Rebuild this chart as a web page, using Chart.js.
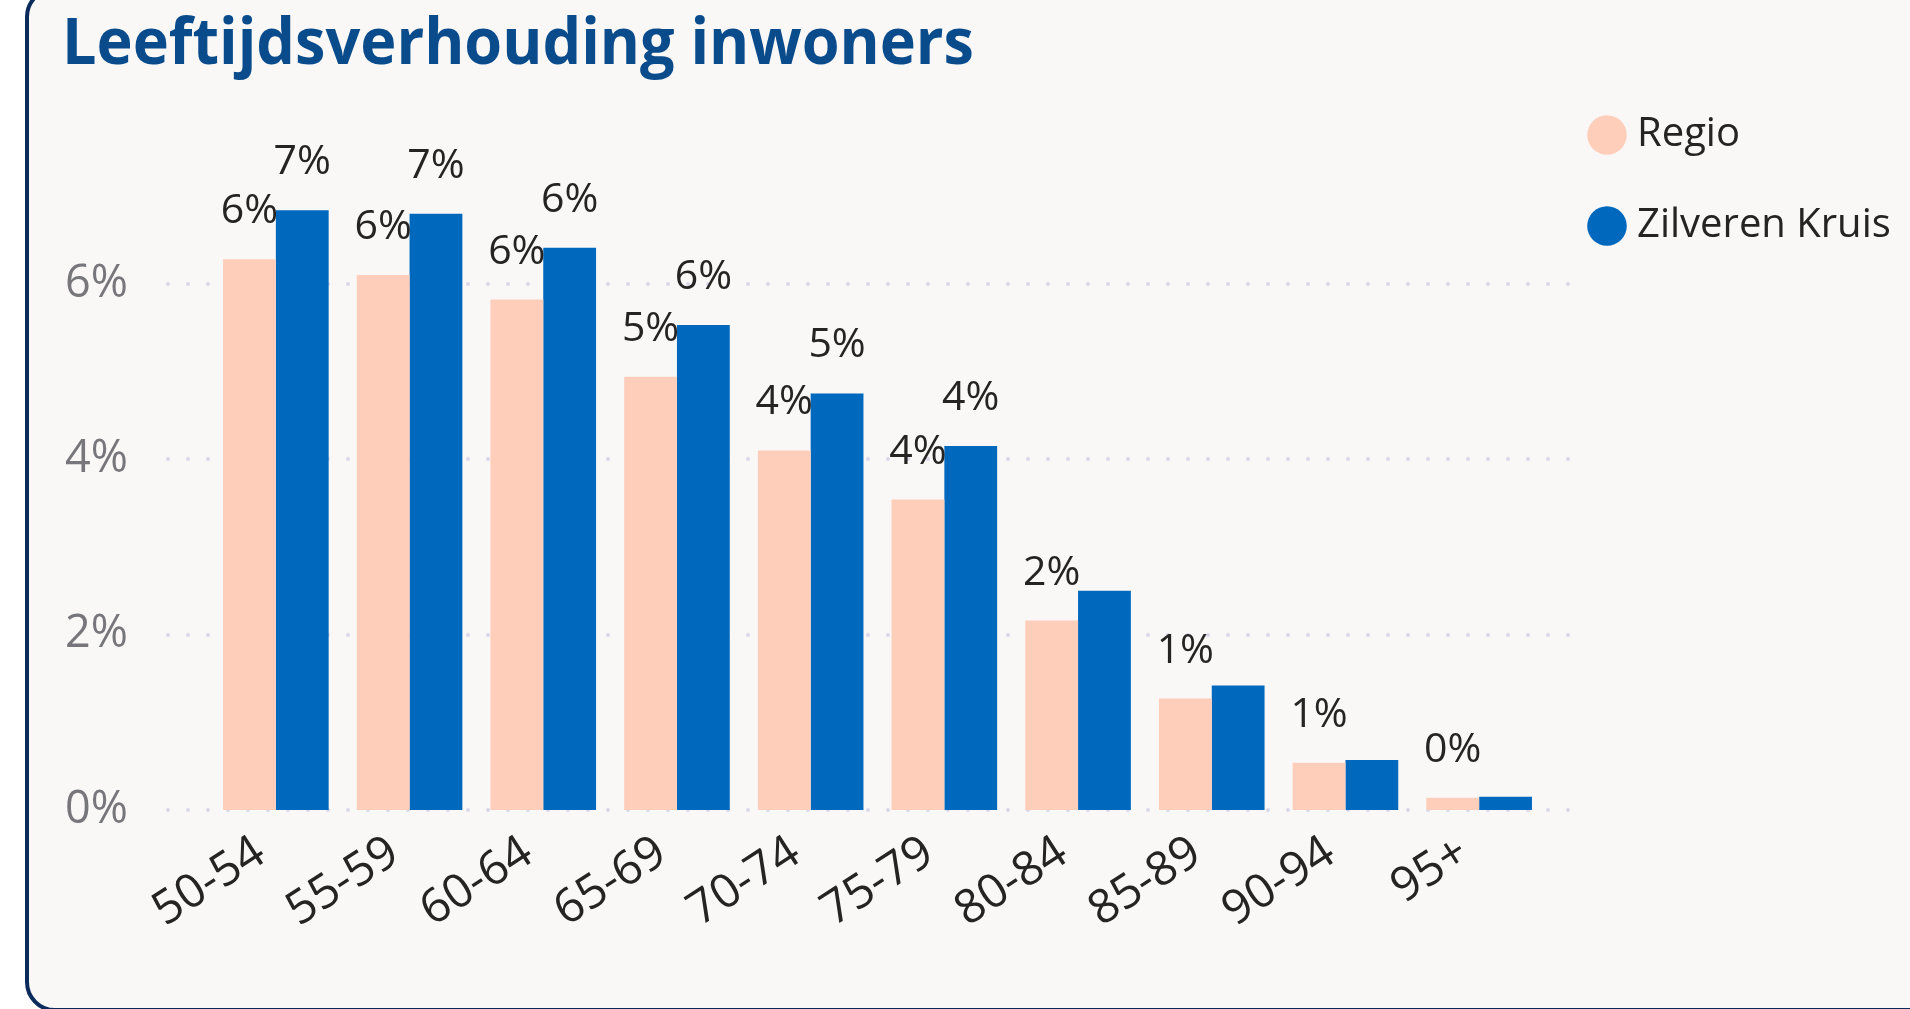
<!DOCTYPE html>
<html>
<head>
<meta charset="utf-8">
<script src="https://cdn.jsdelivr.net/npm/chart.js@4.4.1/dist/chart.umd.min.js"></script>
<style>
  html, body { margin: 0; padding: 0; background: #ffffff; }
  #page { position: relative; width: 1910px; height: 1009px; overflow: hidden; background: #ffffff; }
  #card { position: absolute; left: 25px; top: -13px; width: 2000px; height: 1025px; box-sizing: border-box;
          border: 4px solid #0A2B5C; border-radius: 30px; background: #F9F8F7; }
  #title { position: absolute; left: 62px; top: 8px; margin: 0; font-family: 'Open Sans', 'Noto Sans', sans-serif;
           font-weight: 700; font-size: 64px; line-height: 1; color: #0A4B8C; white-space: nowrap; transform-origin: left top; }
  #wrap { position: absolute; left: 0; top: 0; width: 1910px; height: 1009px; }
</style>
</head>
<body>
<div id="page">
  <div id="card"></div>
  <div id="wrap"><canvas id="c" width="1910" height="1009"></canvas></div>
  <h1 id="title">Leeftijdsverhouding inwoners</h1>
</div>
<script>
// ---- data ----
const categories = ['50-54', '55-59', '60-64', '65-69', '70-74', '75-79', '80-84', '85-89', '90-94', '95+'];
const seriesNames = ['Regio', 'Zilveren Kruis'];
const regio = [6.28, 6.10, 5.82, 4.94, 4.10, 3.54, 2.16, 1.27, 0.54, 0.14];
const zilverenKruis = [6.84, 6.80, 6.41, 5.53, 4.75, 4.15, 2.50, 1.42, 0.57, 0.15];
const yTickValues = [0, 2, 4, 6];

// ---- style ----
const FONT = "'Open Sans', 'Noto Sans', sans-serif";
const COLORS = ['#FFCEBB', '#0068BD'];
const TEXT = '#252423';

// title width fit
const titleEl = document.getElementById('title');
const tw = titleEl.getBoundingClientRect().width;
titleEl.style.transform = 'scaleX(' + (912 / tw) + ')';

// legend width to place the plot's right edge
const LEG_PAD = 51, BOX_W = 20, LEG_FONT = 40;
const mctx = document.createElement('canvas').getContext('2d');
mctx.font = LEG_FONT + 'px ' + FONT;
const maxTextW = Math.max(...seriesNames.map(s => mctx.measureText(s).width));
const legendWidth = LEG_PAD + BOX_W + LEG_FONT / 2 + maxTextW;
const PLOT_LEFT = 209, PLOT_RIGHT = 1546, PLOT_TOP = 64, PLOT_BOTTOM = 810;
const padRight = Math.max(0, 1910 - PLOT_RIGHT - legendWidth);

const dotGrid = {
  id: 'dotGrid',
  beforeDatasetsDraw(chart) {
    const { ctx, chartArea, scales: { y } } = chart;
    ctx.save();
    ctx.strokeStyle = '#D9D8EA';
    ctx.lineWidth = 4;
    ctx.lineCap = 'round';
    ctx.setLineDash([0, 20]);
    y.ticks.forEach(t => {
      const py = Math.round(y.getPixelForValue(t.value));
      ctx.beginPath();
      ctx.moveTo(chartArea.left - 41, py);
      ctx.lineTo(chartArea.right + 25, py);
      ctx.stroke();
    });
    ctx.restore();
  }
};

const barLabels = {
  id: 'barLabels',
  afterDatasetsDraw(chart) {
    const ctx = chart.ctx;
    ctx.save();
    ctx.font = '41px ' + FONT;
    ctx.fillStyle = TEXT;
    ctx.textAlign = 'center';
    ctx.textBaseline = 'alphabetic';
    const placed = [];
    chart.data.datasets.forEach((ds, di) => {
      const meta = chart.getDatasetMeta(di);
      meta.data.forEach((bar, i) => {
        const txt = Math.round(ds.data[i]) + '%';
        const w = ctx.measureText(txt).width;
        const by = bar.y - 36;
        const r = { l: bar.x - w / 2 - 2, r: bar.x + w / 2 + 2, t: by - 40, b: by };
        if (placed.some(p => r.l < p.r && r.r > p.l && r.t < p.b && r.b > p.t)) return;
        placed.push(r);
        ctx.fillText(txt, bar.x, by);
      });
    });
    ctx.restore();
  }
};

const chart = new Chart(document.getElementById('c'), {
  type: 'bar',
  data: {
    labels: categories,
    datasets: [
      { label: seriesNames[0], data: regio, backgroundColor: COLORS[0], borderWidth: 0, categoryPercentage: 0.79, barPercentage: 1.0 },
      { label: seriesNames[1], data: zilverenKruis, backgroundColor: COLORS[1], borderWidth: 0, categoryPercentage: 0.79, barPercentage: 1.0 }
    ]
  },
  options: {
    responsive: false,
    animation: false,
    layout: { padding: { top: PLOT_TOP, right: padRight, bottom: 0, left: 0 } },
    plugins: {
      title: { display: false },
      tooltip: { enabled: false },
      legend: {
        position: 'right',
        align: 'start',
        labels: {
          usePointStyle: true,
          pointStyle: 'circle',
          boxWidth: BOX_W,
          boxHeight: 28,
          padding: LEG_PAD,
          color: TEXT,
          font: { family: FONT, size: LEG_FONT }
        }
      }
    },
    scales: {
      x: {
        grid: { display: false, drawTicks: false },
        border: { display: false },
        afterFit: s => { s.height = 1009 - PLOT_BOTTOM; },
        ticks: {
          autoSkip: false, maxRotation: 33, minRotation: 33, padding: 15, labelOffset: -15,
          color: TEXT, font: { family: FONT, size: 47 }
        }
      },
      y: {
        min: 0,
        max: (PLOT_BOTTOM - PLOT_TOP) / 87.7,
        afterBuildTicks: s => { s.ticks = yTickValues.map(v => ({ value: v })); },
        afterFit: s => { s.width = PLOT_LEFT; s.paddingTop = 0; s.paddingBottom = 0; },
        grid: { display: false, drawTicks: false },
        border: { display: false },
        ticks: {
          padding: 81, color: '#77767A', font: { family: FONT, size: 45 },
          callback: v => v + '%'
        }
      }
    }
  },
  plugins: [dotGrid, barLabels]
});

// nudge the right-side padding so that the plot area ends where the reference's does
const dx = PLOT_RIGHT - chart.chartArea.right;
if (Math.abs(dx) > 0.5) {
  chart.options.layout.padding.right = Math.max(0, padRight - dx);
  chart.update();
}
</script>
</body>
</html>
